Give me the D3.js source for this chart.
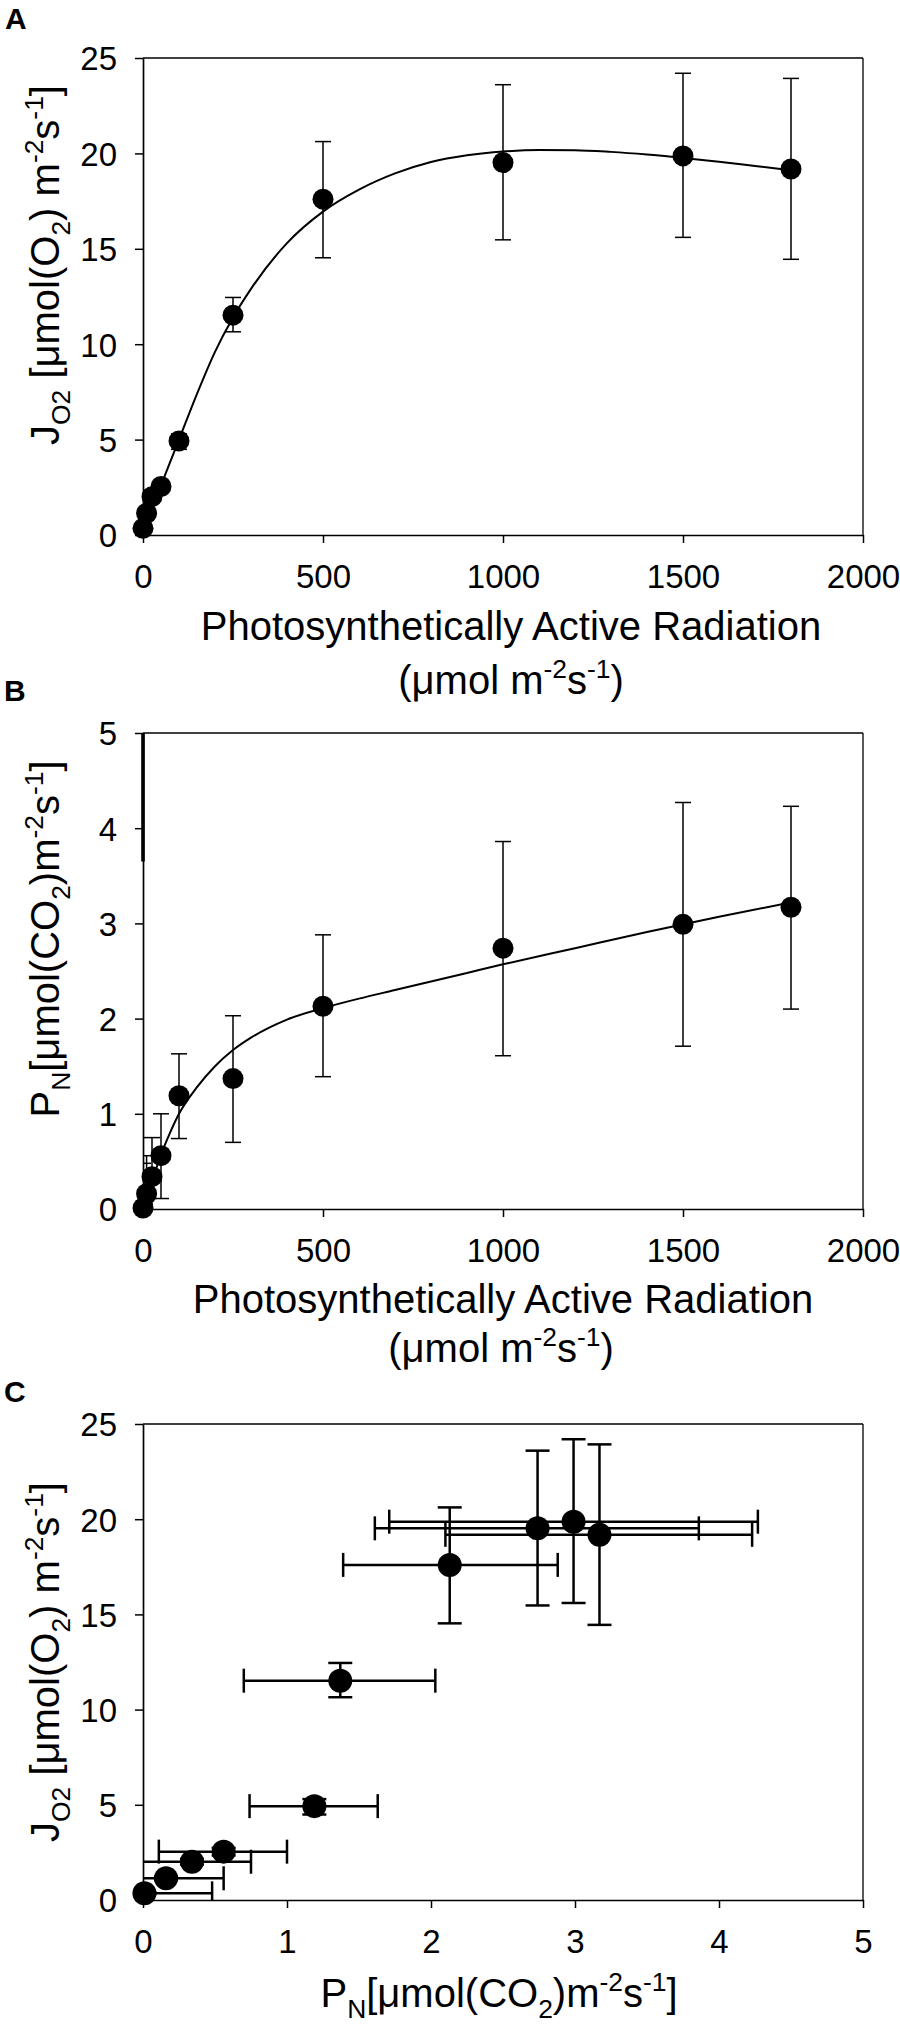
<!DOCTYPE html>
<html><head><meta charset="utf-8">
<script src="https://cdn.jsdelivr.net/npm/d3@7/dist/d3.min.js"></script>
<style>body{margin:0;background:#fff}svg{display:block}</style>
</head><body>
<svg id="c" width="900" height="2029"></svg>
<script>
// ---------- data ----------
const par    = [0, 10, 25, 50, 100, 250, 500, 1000, 1500, 1800];
const jO2    = [0.35, 1.14, 2.01, 2.54, 4.93, 11.52, 17.6, 19.52, 19.87, 19.18];
const jO2Lo  = [0.30, 1.04, 1.86, 2.34, 4.49, 10.65, 14.53, 15.47, 15.6, 14.45];
const jO2Hi  = [0.40, 1.24, 2.16, 2.74, 5.30, 12.45, 20.62, 23.6, 24.2, 23.93];
const pN     = [0.01, 0.16, 0.34, 0.56, 1.19, 1.37, 2.13, 2.74, 2.99, 3.17];
const pNLo   = [-0.46, -0.24, -0.07, 0.11, 0.74, 0.70, 1.39, 1.61, 1.71, 2.10];
const pNHi   = [0.48, 0.56, 0.75, 1.00, 1.63, 2.03, 2.88, 3.86, 4.27, 4.23];

const fitAx = [0, 25, 50, 100, 150, 200, 250, 300, 400, 500, 600, 700, 800, 900, 1000, 1100, 1200, 1300, 1400, 1500, 1600, 1700, 1800];
const fitAy = [0.1, 1.35, 2.6, 5.0, 7.4, 9.6, 11.4, 12.9, 15.3, 16.95, 18.1, 18.95, 19.55, 19.9, 20.1, 20.18, 20.17, 20.08, 19.94, 19.76, 19.56, 19.34, 19.12];
const fitBx = [0, 25, 50, 75, 100, 150, 200, 250, 300, 400, 500, 600, 700, 800, 900, 1000, 1200, 1400, 1600, 1800];
const fitBy = [0.0, 0.29, 0.57, 0.80, 1.00, 1.28, 1.50, 1.67, 1.80, 1.99, 2.11, 2.21, 2.30, 2.39, 2.48, 2.57, 2.74, 2.91, 3.07, 3.22];
// near-vertical branch of the B fit at PAR = 0 (runs off the top of the axis)
const fitBpoleX = [0, 0];
const fitBpoleY = [5.0, 3.65];

const parTicks = [0, 500, 1000, 1500, 2000];
const jTicks   = [0, 5, 10, 15, 20, 25];
const pTicks   = [0, 1, 2, 3, 4, 5];

// ---------- helpers ----------
const svg = d3.select('#c');
const FONT = 'Liberation Sans, Arial, sans-serif';
const X0 = 143, X1 = 863;
const fmt = d3.format('d');

function rich(sel, parts, size){
  let shift = 0;
  parts.forEach(([t, k]) => {
    const ts = sel.append('tspan').text(t);
    const target = k === 'sub' ? size*0.28 : (k === 'sup' ? -size*0.40 : 0);
    if (target - shift !== 0) ts.attr('dy', target - shift);
    shift = target;
    if (k) ts.attr('font-size', size*0.66);
  });
}

function panel(opt){
  const g = svg.append('g');
  const x = d3.scaleLinear().domain(opt.xd).range([X0, X1]);
  const y = d3.scaleLinear().domain(opt.yd).range(opt.yr);
  const id = 'clip' + opt.key;
  svg.append('clipPath').attr('id', id).append('rect')
    .attr('x', X0).attr('y', opt.yr[1]).attr('width', X1 - X0).attr('height', opt.yr[0] - opt.yr[1]);

  g.append('line').attr('x1', x(opt.xd[0])).attr('x2', x(opt.xd[1])).attr('y1', y(opt.yd[1])).attr('y2', y(opt.yd[1]))
    .attr('stroke', '#000').attr('stroke-width', 1.3);
  g.append('line').attr('x1', x(opt.xd[1])).attr('x2', x(opt.xd[1])).attr('y1', y(opt.yd[0])).attr('y2', y(opt.yd[1]))
    .attr('stroke', '#000').attr('stroke-width', 1.3);

  const xa = g.append('g').attr('transform', `translate(0,${opt.yr[0]})`)
    .call(d3.axisBottom(x).tickValues(opt.xt).tickFormat(fmt).tickSize(8).tickSizeOuter(0));
  const ya = g.append('g').attr('transform', `translate(${X0},0)`)
    .call(d3.axisLeft(y).tickValues(opt.yt).tickFormat(fmt).tickSize(8).tickSizeOuter(0));
  [xa, ya].forEach(a => {
    a.select('.domain').attr('stroke', '#000').attr('stroke-width', 1.7);
    a.selectAll('.tick line').attr('stroke', '#000').attr('stroke-width', 1.5);
    a.selectAll('.tick text').attr('font-family', FONT).attr('font-size', 33).attr('fill', '#000');
  });
  xa.selectAll('.tick text').attr('y', 53).attr('dy', 0);
  ya.selectAll('.tick text').attr('x', -26).attr('dy', '0.36em');

  const body = g.append('g').attr('clip-path', `url(#${id})`);
  return {g, x, y, body};
}

function vbars(p, xs, lo, hi, cap, sw){
  xs.forEach((xv, i) => {
    const cx = p.x(xv), y1 = p.y(lo[i]), y2 = p.y(hi[i]);
    p.body.append('line').attr('x1', cx).attr('x2', cx).attr('y1', y1).attr('y2', y2).attr('stroke', '#000').attr('stroke-width', sw);
    [y1, y2].forEach(yy => p.body.append('line').attr('x1', cx - cap).attr('x2', cx + cap).attr('y1', yy).attr('y2', yy).attr('stroke', '#000').attr('stroke-width', sw));
  });
}
function hbars(p, ys, lo, hi, cap, sw){
  ys.forEach((yv, i) => {
    const cy = p.y(yv), x1 = p.x(lo[i]), x2 = p.x(hi[i]);
    p.body.append('line').attr('y1', cy).attr('y2', cy).attr('x1', x1).attr('x2', x2).attr('stroke', '#000').attr('stroke-width', sw);
    [x1, x2].forEach(xx => p.body.append('line').attr('y1', cy - cap).attr('y2', cy + cap).attr('x1', xx).attr('x2', xx).attr('stroke', '#000').attr('stroke-width', sw));
  });
}
function curve(p, xs, ys){
  p.body.append('path').datum(xs.map((v, i) => [v, ys[i]]))
    .attr('d', d3.line().x(d => p.x(d[0])).y(d => p.y(d[1])).curve(d3.curveMonotoneX))
    .attr('fill', 'none').attr('stroke', '#000').attr('stroke-width', 2);
}
function dots(p, xs, ys, r){
  p.g.append('g').selectAll('circle').data(xs).join('circle')
    .attr('cx', d => p.x(d)).attr('cy', (d, i) => p.y(ys[i])).attr('r', r).attr('fill', '#000');
}
function label(txt, x, y){
  svg.append('text').attr('x', x).attr('y', y).attr('font-family', FONT).attr('font-weight', 'bold')
    .attr('font-size', 30).text(txt);
}
function title(x, y, parts, size){
  const t = svg.append('text').attr('x', x).attr('y', y).attr('text-anchor', 'middle')
    .attr('font-family', FONT).attr('font-size', size).attr('fill', '#000');
  rich(t, parts, size);
}
function ytitle(x, y, parts, size){
  const t = svg.append('text').attr('transform', `translate(${x},${y}) rotate(-90)`).attr('text-anchor', 'middle')
    .attr('font-family', FONT).attr('font-size', size).attr('fill', '#000');
  rich(t, parts, size);
}

const jLabel = [['J'], ['O2', 'sub'], [' [μmol(O'], ['2', 'sub'], [') m'], ['-2', 'sup'], ['s'], ['-1', 'sup'], [']']];
const pLabel = [['P'], ['N', 'sub'], ['[μmol(CO'], ['2', 'sub'], [')m'], ['-2', 'sup'], ['s'], ['-1', 'sup'], [']']];
const parTitle = [['Photosynthetically Active Radiation']];
const parUnits = [['(μmol m'], ['-2', 'sup'], ['s'], ['-1', 'sup'], [')']];

// ---------- Panel A ----------
const A = panel({key: 'A', xd: [0, 2000], yd: [0, 25], yr: [535, 58], xt: parTicks, yt: jTicks});
vbars(A, par, jO2Lo, jO2Hi, 8, 1.5);
curve(A, fitAx, fitAy);
dots(A, par, jO2, 10.5);
label('A', 5, 29);
title(511, 640, parTitle, 40);
title(511, 694, parUnits, 40);
ytitle(59, 265, jLabel, 40);

// ---------- Panel B ----------
const B = panel({key: 'B', xd: [0, 2000], yd: [0, 5], yr: [1209, 733], xt: parTicks, yt: pTicks});
vbars(B, par, pNLo, pNHi, 8, 1.5);
curve(B, fitBx, fitBy);
B.g.append('path').datum(fitBpoleX.map((v, i) => [v, fitBpoleY[i]]))
  .attr('d', d3.line().x(d => B.x(d[0])).y(d => B.y(d[1])))
  .attr('fill', 'none').attr('stroke', '#000').attr('stroke-width', 3.6);
dots(B, par, pN, 10.5);
label('B', 4, 701);
title(503, 1313, parTitle, 40);
title(501, 1362, parUnits, 40);
ytitle(59, 939, pLabel, 40);

// ---------- Panel C ----------
const C = panel({key: 'C', xd: [0, 5], yd: [0, 25], yr: [1900, 1424], xt: pTicks, yt: jTicks});
vbars(C, pN, jO2Lo, jO2Hi, 12, 2.5);
hbars(C, jO2, pNLo, pNHi, 12, 2.5);
dots(C, pN, jO2, 12);
label('C', 4, 1402);
title(499, 2007, pLabel, 40);
ytitle(59, 1662, jLabel, 40);
</script>
</body></html>
